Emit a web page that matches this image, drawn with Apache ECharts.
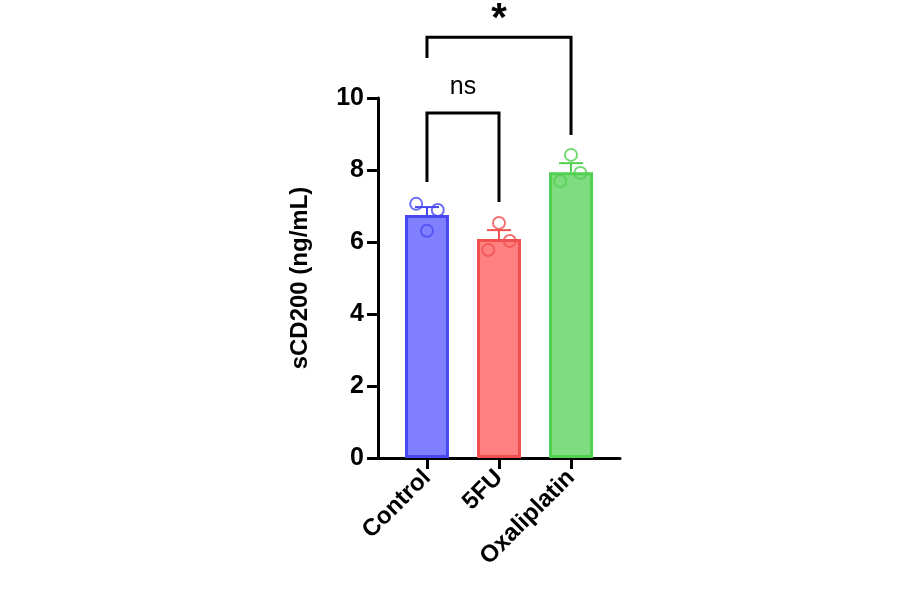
<!DOCTYPE html><html><head><meta charset="utf-8"><script src="https://cdn.jsdelivr.net/npm/echarts@6/dist/echarts.min.js"></script>
<style>body{margin:0;background:#fff}#c{width:900px;height:594px}</style></head><body><div id="c"></div><script>
const categories=['Control','5FU','Oxaliplatin'];
const means=[6.75,6.08,7.94];
const sems=[0.22,0.25,0.25];
const points=[[7.06,6.89,6.31],[6.53,6.03,5.78],[8.42,7.92,7.69]];
const pointOffsets=[[-0.15,0.15,0],[0,0.15,-0.15],[0,0.13,-0.15]];
const fills=['#8080ff','#ff8080','#80dc80'];
const borders=['#4848f0','#f05050','#50d050'];
const yTicks=[0,2,4,6,8,10];
const brackets=[{x1:1,x2:2,yTop:9.58,y1:7.67,y2:7.11,label:'ns'},{x1:1,x2:3,yTop:11.69,y1:11.11,y2:8.97,label:'*'}];
const chart=echarts.init(document.getElementById('c'));
const barData=means.map((m,i)=>({value:[i+1,m],itemStyle:{color:fills[i],borderColor:borders[i]}}));
const scatter=[];points.forEach((arr,i)=>arr.forEach((v,j)=>scatter.push({value:[i+1+pointOffsets[i][j],v],itemStyle:{borderColor:borders[i]}})));
const F='"Liberation Sans"';
chart.setOption({animation:false,
grid:{left:378,top:98,width:242,height:360},
xAxis:{type:'value',min:0.32,max:3.68,splitLine:{show:false},
 axisLine:{lineStyle:{color:'#000',width:3}},
 axisTick:{customValues:[1,2,3],length:11,lineStyle:{color:'#000',width:3}},
 axisLabel:{customValues:[1,2,3],formatter:v=>categories[Math.round(v)-1],rotate:45,margin:16,color:'#000',fontSize:24,fontWeight:'bold',fontFamily:'Liberation Sans'}},
yAxis:{type:'value',min:0,max:10,interval:2,splitLine:{show:false},
 name:'sCD200 (ng/mL)',nameLocation:'middle',nameGap:66,nameTextStyle:{color:'#000',fontSize:24,fontWeight:'bold',fontFamily:'Liberation Sans'},
 axisLine:{show:true,lineStyle:{color:'#000',width:3}},
 axisTick:{length:11,lineStyle:{color:'#000',width:3}},
 axisLabel:{margin:14,color:'#000',fontSize:25,fontWeight:'bold',fontFamily:'Liberation Sans'}},
series:[
{type:'bar',data:barData,barWidth:44,itemStyle:{borderWidth:3}},
{type:'custom',renderItem:(p,api)=>{const i=p.dataIndex;const c=api.coord([i+1,means[i]]);const t=api.coord([i+1,means[i]+sems[i]]);
 return {type:'group',children:[{type:'line',shape:{x1:c[0],y1:c[1],x2:t[0],y2:t[1]},style:{stroke:borders[i],lineWidth:2}},{type:'line',shape:{x1:t[0]-12,y1:t[1],x2:t[0]+12,y2:t[1]},style:{stroke:borders[i],lineWidth:2}}]};},
 data:means.map((m,i)=>[i+1,m]),z:3},
{type:'scatter',data:scatter,symbol:'circle',symbolSize:12,itemStyle:{color:'rgba(255,255,255,0)',borderWidth:2},z:4},
{type:'custom',clip:false,renderItem:(p,api)=>{const b=brackets[p.dataIndex];const a=api.coord([b.x1,b.y1]),t1=api.coord([b.x1,b.yTop]),t2=api.coord([b.x2,b.yTop]),e=api.coord([b.x2,b.y2]);
 const star=b.label==='*';
 return {type:'group',children:[{type:'polyline',shape:{points:[a,t1,t2,e]},style:{stroke:'#000',lineWidth:3,fill:null}},
 {type:'text',style:{text:b.label,x:(t1[0]+t2[0])/2,y:t1[1]-(star?17:26),align:'center',verticalAlign:'middle',fill:'#000',font:(star?'bold 40px ':'25px ')+F}}]};},
 data:brackets.map((b,i)=>[i,0]),z:5}
]});
</script></body></html>
